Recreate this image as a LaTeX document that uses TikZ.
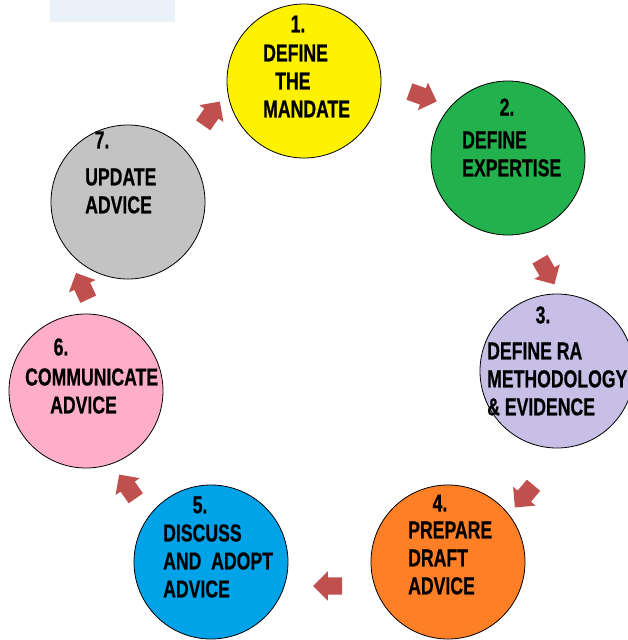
\documentclass[tikz,border=0pt]{standalone}
\usepackage{fontspec}
\setsansfont{Liberation Sans}[FakeStretch=0.72,FakeBold=0.6]
\usetikzlibrary{shapes.arrows}
\definecolor{pyellow}{HTML}{FFF200}
\definecolor{pgreen}{HTML}{22B14C}
\definecolor{plilac}{HTML}{C8BFE7}
\definecolor{porange}{HTML}{FF7F27}
\definecolor{pblue}{HTML}{00A2E8}
\definecolor{ppink}{HTML}{FFAEC9}
\definecolor{pgrey}{HTML}{C3C3C3}
\definecolor{arrowred}{HTML}{C0504D}
\definecolor{paleblue}{HTML}{EBF1F8}

\begin{document}
\begin{tikzpicture}[x=1pt,y=-1pt,
  stage/.style={circle,draw,line width=0.8pt,minimum size=154pt,inner sep=0pt},
  txt/.style={font=\sffamily\bfseries\fontsize{24.5}{28}\selectfont,inner sep=0pt,align=left,anchor=west},
  num/.style={font=\sffamily\bfseries\fontsize{24.5}{28}\selectfont,inner sep=0pt},
  fwd/.style={single arrow,fill=arrowred,minimum height=29pt,single arrow head extend=6pt,inner sep=8.5pt}]
\useasboundingbox (0,0) rectangle (627,640);
\fill[paleblue] (50,0) rectangle (175,22);
\node[stage,fill=pyellow] at (304,81) (c1) {};
\node[stage,fill=pgreen] at (508,158) (c2) {};
\node[stage,fill=plilac] at (557,371) (c3) {};
\node[stage,fill=porange] at (448,562) (c4) {};
\node[stage,fill=pblue] at (211,562) (c5) {};
\node[stage,fill=ppink] at (86,391) (c6) {};
\node[stage,fill=pgrey] at (128,202) (c7) {};
\node[num] at (298,24) (n1) {1.};
\node[num] at (507,107) (n2) {2.};
\node[num] at (543,315) (n3) {3.};
\node[num] at (440,503) (n4) {4.};
\node[num] at (200,505) (n5) {5.};
\node[num] at (61,347) (n6) {6.};
\node[num] at (102,140) (n7) {7.};
\node[txt] at (263,81) (t1) {DEFINE\\\hspace*{12pt}THE\\MANDATE};
\node[txt] at (462,154) (t2) {DEFINE\\EXPERTISE};
\node[txt] at (487,379) (t3) {DEFINE RA\\METHODOLOGY\\\& EVIDENCE};
\node[txt] at (408,558) (t4) {PREPARE\\DRAFT\\ADVICE};
\node[txt] at (163,561) (t5) {DISCUSS\\AND\ \ ADOPT\\ADVICE};
\node[txt] at (25,391) (t6) {COMMUNICATE\\\hspace*{25pt}ADVICE};
\node[txt] at (85,191) (t7) {UPDATE\\ADVICE};
\node[fwd,rotate=55] at (209,117) (a71) {};
\node[fwd,rotate=-20] at (419,95) (a12) {};
\node[fwd,rotate=-60] at (545,268) (a23) {};
\node[fwd,rotate=-130] at (527,493) (a34) {};
\node[fwd,rotate=180] at (332,586) (a45) {};
\node[fwd,rotate=125] at (130,490) (a56) {};
\node[fwd,rotate=115] at (84,290) (a67) {};
\end{tikzpicture}
\end{document}
